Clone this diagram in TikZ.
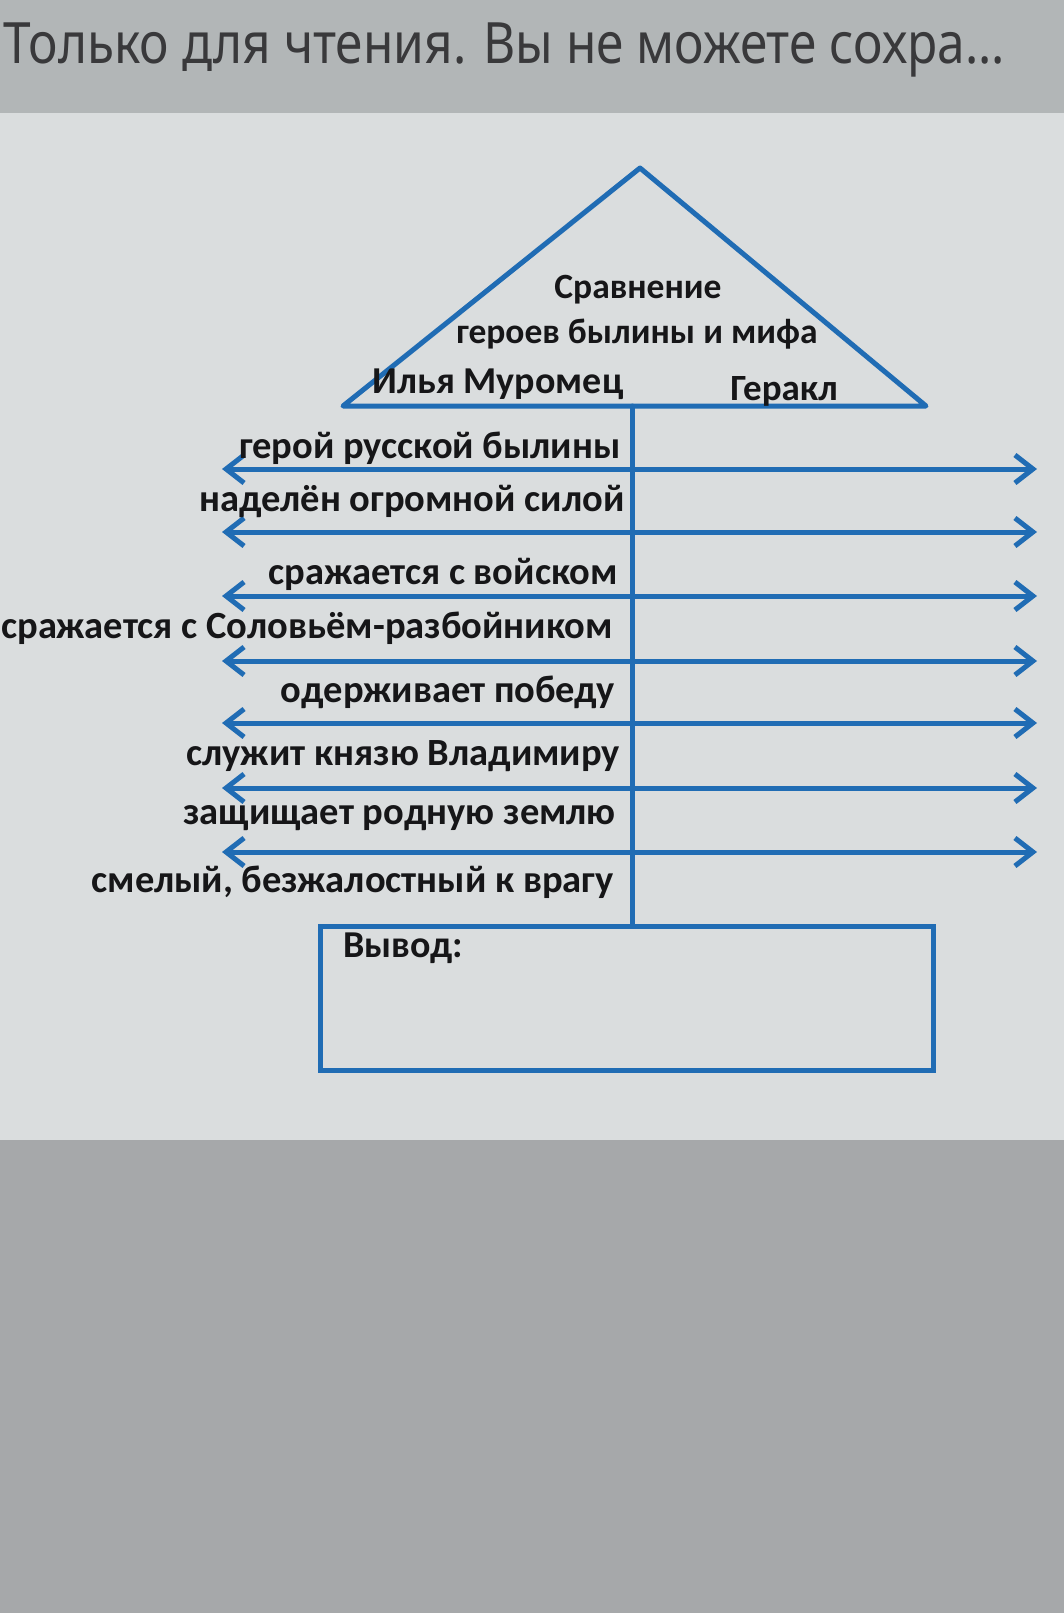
\documentclass[tikz,border=0pt]{standalone}
\usepackage{fontspec}
\setmainfont{Carlito}
\newfontfamily\hdrfont{Noto Sans}
\usetikzlibrary{arrows.meta}
\definecolor{wblue}{RGB}{32,108,180}
\definecolor{hdrbg}{RGB}{178,182,183}
\definecolor{pagebg}{RGB}{218,221,222}
\definecolor{lowbg}{RGB}{166,168,170}
\definecolor{ink}{RGB}{22,22,24}
\tikzset{
  bl/.style={draw=wblue, line width=5pt, line cap=round, line join=round},
  arr/.style={bl, -{Straight Barb[length=18pt,width=28pt,line width=5pt]}},
  lab/.style={text=ink, inner sep=0pt, font=\fontsize{38.5}{42}\selectfont\bfseries, anchor=east},
  ttl/.style={text=ink, inner sep=0pt, font=\fontsize{35.5}{39}\selectfont\bfseries},
  hero/.style={text=ink, inner sep=0pt, font=\fontsize{38}{42}\selectfont\bfseries},
}
\begin{document}
\begin{tikzpicture}[x=1pt,y=-1pt]
\useasboundingbox (0,0) rectangle (1064,1613);
\fill[hdrbg] (0,0) rectangle (1064,113);
\fill[pagebg] (0,113) rectangle (1064,1140);
\fill[lowbg] (0,1140) rectangle (1064,1613);
\node[text=ink!85, inner sep=0pt, anchor=west, font=\hdrfont\fontsize{57}{60}\selectfont] (hdr) at (3,50)
  {\scalebox{0.87}[1]{Только для чтения. Вы не можете сохра...}};

% roof
\coordinate (apex) at (640,168);
\coordinate (bl) at (343,406);
\coordinate (br) at (926,406);
\draw[bl] (bl) -- (apex) -- (br) -- cycle;
\node[ttl] (t1) at (638,290) {Сравнение};
\node[ttl] (t2) at (637,334) {героев былины и мифа};
\node[hero] (ilya) at (498,384) {Илья Муромец};
\node[hero, font=\fontsize{37}{40}\selectfont\bfseries] (gerakl) at (784,391) {Геракл};

% conclusion box
\node[draw=wblue, line width=5pt, minimum width=613pt, minimum height=144pt, inner sep=0pt, anchor=north west] (vyvod) at (318,924) {};
\node[hero, anchor=west] (vyvodlab) at (343,948) {Вывод:};

% spine
\coordinate (vtop) at (632,406);
\draw[bl] (vtop) -- (vtop |- vyvod.north);

% rows
\foreach \i/\y in {1/469,2/532,3/596,4/661,5/723,6/788,7/852}{
  \coordinate (L\i) at (222,\y);
  \coordinate (R\i) at (1037,\y);
  \coordinate (M\i) at (632,\y);
  \draw[arr] (M\i) -- (L\i);
  \draw[arr] (M\i) -- (R\i);
}
\node[lab] (a1) at (621,448) {герой русской былины};
\node[lab] (a2) at (625,501) {наделён огромной силой};
\node[lab] (a3) at (618,574) {сражается с войском};
\node[lab] (a4) at (613,628) {сражается с Соловьём-разбойником};
\node[lab] (a5) at (615,692) {одерживает победу};
\node[lab] (a6) at (620,756) {служит князю Владимиру};
\node[lab] (a7) at (616,818) {защищает родную землю};
\node[lab] (a8) at (614,882) {смелый, безжалостный к врагу};
\end{tikzpicture}
\end{document}
